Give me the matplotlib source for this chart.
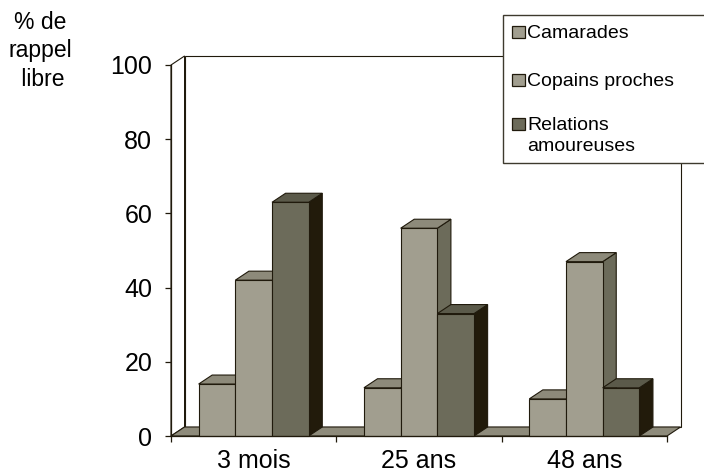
import matplotlib
matplotlib.use("Agg")
import matplotlib.pyplot as plt
from matplotlib.patches import Polygon, Rectangle

plt.rcParams["font.family"] = ["Liberation Sans", "DejaVu Sans"]

# Data: % of free recall by type of relation, at three delays
categories = ["3 mois", "25 ans", "48 ans"]
series = ["Camarades", "Copains proches", "Relations\namoureuses"]
camarades = [14, 13, 10]
copains = [42, 56, 47]
relations = [63, 33, 13]
values = [camarades, copains, relations]

# face / top / side shades per series (pseudo-3D Excel look)
face = ["#a19e8f", "#a19e8f", "#6c6b5a"]
top = ["#8d8a7a", "#8d8a7a", "#5b5a4a"]
side = ["#6c6b5a", "#6c6b5a", "#221b0b"]
EDGE = "#201a0c"
FLOOR = "#8e8b7b"

BAR_W = 0.222
DX, DY = 0.082, 2.43   # depth offset in data units
YMAX = 100
n = len(categories)

fig = plt.figure(figsize=(7.04, 4.75), dpi=100)
ax = fig.add_axes([171 / 704, 39 / 475, 496 / 704, 371 / 475])
ax.set_xlim(0, n)
ax.set_ylim(0, YMAX)
ax.patch.set_visible(False)


def poly(pts, fc, z):
    ax.add_patch(Polygon(pts, closed=True, facecolor=fc, edgecolor=EDGE,
                         linewidth=0.8, zorder=z, clip_on=False))


# walls and floor
poly([(0, 0), (DX, DY), (DX, YMAX + DY), (0, YMAX)], "white", 1)
poly([(DX, DY), (n + DX, DY), (n + DX, YMAX + DY), (DX, YMAX + DY)], "white", 1)
poly([(0, 0), (n, 0), (n + DX, DY), (DX, DY)], FLOOR, 1.5)

z = 2
for i in range(n):
    x0 = i + 0.5 - 1.5 * BAR_W
    for k in range(len(series)):
        v = values[k][i]
        x = x0 + k * BAR_W
        poly([(x + BAR_W, 0), (x + BAR_W + DX, DY), (x + BAR_W + DX, v + DY),
              (x + BAR_W, v)], side[k], z)
        poly([(x, v), (x + BAR_W, v), (x + BAR_W + DX, v + DY), (x + DX, v + DY)],
             top[k], z)
        poly([(x, 0), (x + BAR_W, 0), (x + BAR_W, v), (x, v)], face[k], z)
        z += 1

# axes
for s in ["top", "right"]:
    ax.spines[s].set_visible(False)
for s in ["left", "bottom"]:
    ax.spines[s].set_color(EDGE)
    ax.spines[s].set_linewidth(0.9)
    ax.spines[s].set_zorder(50)
ax.set_yticks(range(0, 101, 20))
ax.tick_params(axis="y", direction="out", length=4.5, width=0.9, color=EDGE,
               labelsize=18, pad=9)
ax.set_xticks(range(n + 1))
ax.set_xticklabels([])
ax.set_xticks([i + 0.5 for i in range(n)], minor=True)
ax.set_xticklabels(categories, minor=True)
ax.tick_params(axis="x", which="major", direction="out", length=4.5, width=0.9,
               color=EDGE)
ax.tick_params(axis="x", which="minor", length=0, labelsize=18, pad=9)

# y-axis title
fig.text(40 / 704, 1 - 51 / 475, "% de\nrappel\n libre", ha="center", va="center",
         fontsize=16.5, linespacing=1.3)

# legend box (runs off the right edge)
lx0, ly0, lx1, ly1 = 503, 15, 712, 163
fig.patches.append(Rectangle((lx0 / 704, 1 - ly1 / 475), (lx1 - lx0) / 704,
                             (ly1 - ly0) / 475, transform=fig.transFigure,
                             facecolor="white", edgecolor="#3e3a2e", linewidth=1.0,
                             zorder=60))
entry_y = [32, 80, 124]
for k, lab in enumerate(series):
    yc = entry_y[k]
    fig.patches.append(Rectangle((512 / 704, 1 - (yc + 6) / 475), 13 / 704, 12 / 475,
                                 transform=fig.transFigure, facecolor=face[k],
                                 edgecolor=EDGE, linewidth=0.9, zorder=61))
    fig.text(527 / 704, 1 - (yc - 7) / 475, lab, ha="left", va="top",
             fontsize=14, linespacing=1.3, zorder=62)

fig.savefig("out.png", dpi=100)
